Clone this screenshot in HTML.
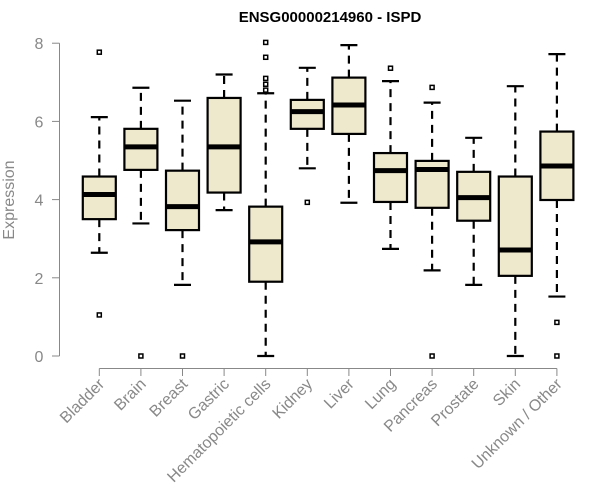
<!DOCTYPE html>
<html><head><meta charset="utf-8"><style>body{margin:0;background:#fff}svg{display:block}text{font-family:"Liberation Sans",Arial,sans-serif}</style></head>
<body>
<svg id="chart" width="600" height="500" xmlns="http://www.w3.org/2000/svg">
<text x="330" y="22" text-anchor="middle" font-weight="bold" font-size="15" fill="#000">ENSG00000214960 - ISPD</text>
<text transform="translate(14,200) rotate(-90)" text-anchor="middle" font-size="16" fill="#888">Expression</text>
<g id="axes"></g><g id="marks"></g>
</svg>
<script>
const categories=["Bladder","Brain","Breast","Gastric","Hematopoietic cells","Kidney","Liver","Lung","Pancreas","Prostate","Skin","Unknown / Other"];
const whiskerLow=[2.64,3.39,1.82,3.73,0,4.8,3.92,2.74,2.19,1.82,0,1.52];
const q1=[3.50,4.76,3.22,4.18,1.90,5.81,5.68,3.94,3.79,3.46,2.05,3.99];
const medians=[4.13,5.35,3.82,5.35,2.92,6.25,6.42,4.74,4.77,4.05,2.71,4.86];
const q3=[4.59,5.81,4.74,6.6,3.82,6.55,7.12,5.19,4.99,4.71,4.59,5.74];
const whiskerHigh=[6.11,6.86,6.53,7.2,6.72,7.37,7.95,7.03,6.48,5.58,6.9,7.72];
const outliers=[[1.05,7.77],[0],[0],[],[8.02,7.64,7.1,6.95,6.8],[3.93],[],[7.36],[6.87,0],[],[],[0.86,0]];
const yTicks=[0,2,4,6,8];
const NS="http://www.w3.org/2000/svg";
const yS=v=>356-v*39.1;
const xS=i=>99.3+i*41.6;
const axes=document.getElementById('axes'),marks=document.getElementById('marks');
function mk(tag,at,parent){const e=document.createElementNS(NS,tag);for(const k in at)e.setAttribute(k,at[k]);parent.appendChild(e);return e;}
let a=mk('line',{x1:59.5,x2:59.5,y1:yS(8),y2:yS(0),stroke:'#888'},axes);


yTicks.forEach(t=>{
 const l=mk('line',{x1:52,x2:59.5,y1:yS(t),y2:yS(t),stroke:'#888'},axes);
 
 
 const tx=mk('text',{x:39,y:yS(t)+6,'text-anchor':'middle','font-size':16,fill:'#888'},axes);
 tx.textContent=t;
 
 
});
a=mk('line',{x1:xS(0),x2:xS(categories.length-1),y1:368.5,y2:368.5,stroke:'#888'},axes);


categories.forEach((c,i)=>{
 const x=xS(i);
 const l=mk('line',{x1:x,x2:x,y1:368.5,y2:376,stroke:'#888'},axes);
 
 
 const tx=mk('text',{transform:`translate(${x+6},385) rotate(-45)`,'text-anchor':'end','font-size':16,fill:'#888'},axes);
 tx.textContent=c;
 
 
 const g=mk('g',{},marks);
 
 
 const d={stroke:'#000','stroke-width':2.2,'stroke-dasharray':'8,6'};
 mk('line',Object.assign({x1:x,x2:x,y1:yS(q3[i]),y2:yS(whiskerHigh[i])},d),g);
 mk('line',Object.assign({x1:x,x2:x,y1:yS(q1[i]),y2:yS(whiskerLow[i])},d),g);
 mk('line',{x1:x-8.5,x2:x+8.5,y1:yS(whiskerHigh[i]),y2:yS(whiskerHigh[i]),stroke:'#000','stroke-width':2.2},g);
 mk('line',{x1:x-8.5,x2:x+8.5,y1:yS(whiskerLow[i]),y2:yS(whiskerLow[i]),stroke:'#000','stroke-width':2.2},g);
 mk('rect',{x:x-16.5,y:yS(q3[i]),width:33,height:yS(q1[i])-yS(q3[i]),fill:'#EEE8CD',stroke:'#000','stroke-width':2.2},g);
 mk('line',{x1:x-16.5,x2:x+16.5,y1:yS(medians[i]),y2:yS(medians[i]),stroke:'#000','stroke-width':5},g);
 outliers[i].forEach(o=>{
  const r=mk('rect',{x:x-2,y:yS(o)-2,width:4,height:4,fill:'none',stroke:'#000','stroke-width':1.5},g);
  
  
 });
});
</script>
</body></html>
